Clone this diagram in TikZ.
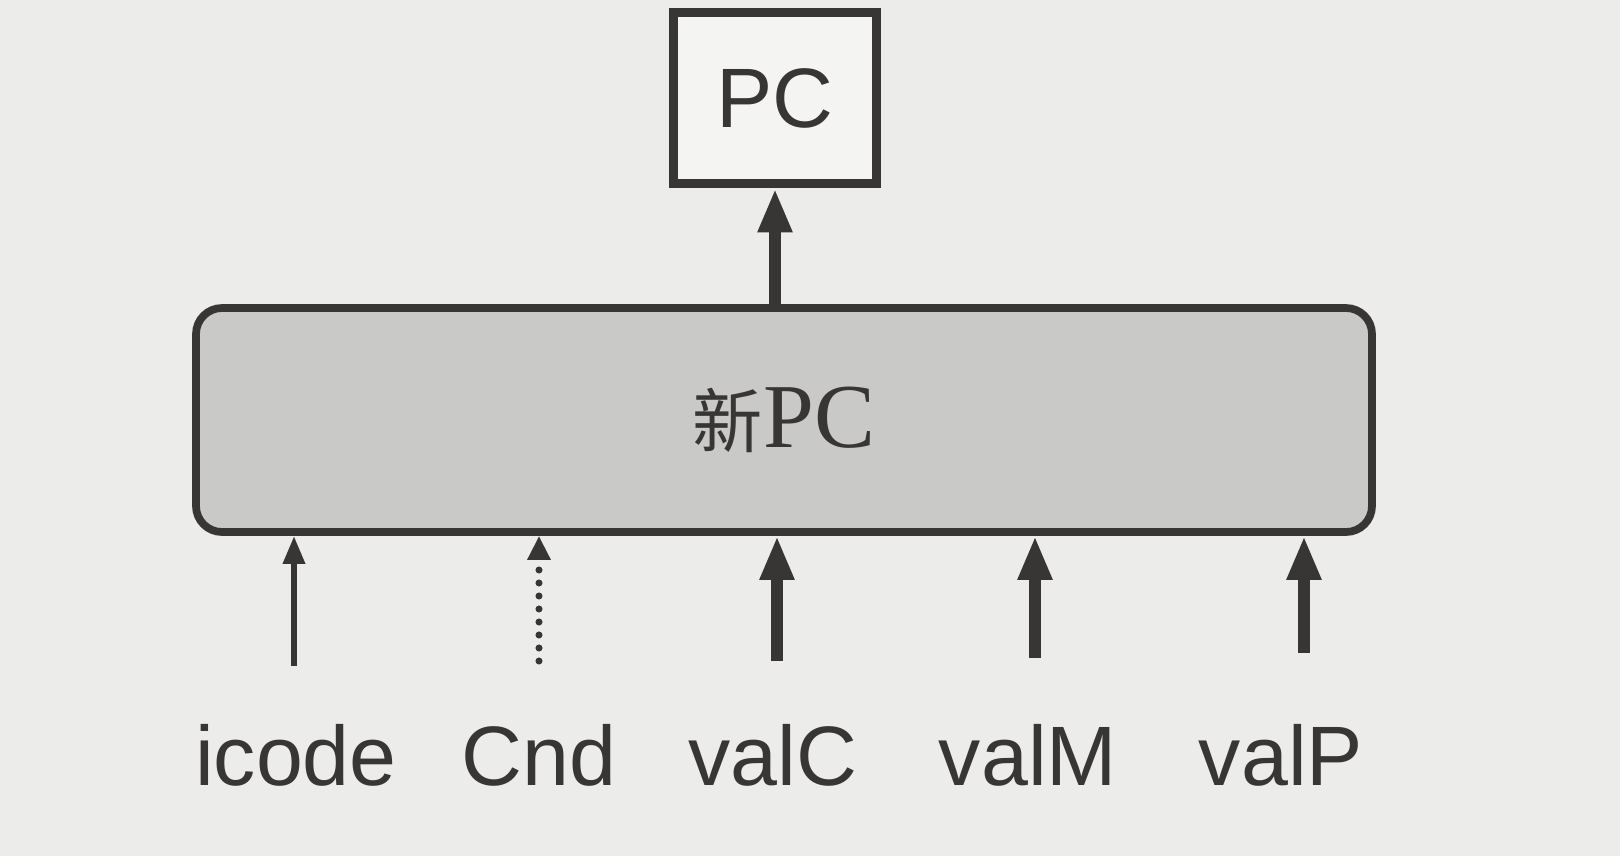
\documentclass[tikz,border=0pt]{standalone}
\usepackage{fontspec}
\setmainfont{Liberation Serif}
\setsansfont{Liberation Sans}
\newfontfamily\cjk{Noto Sans CJK SC}
\usetikzlibrary{arrows.meta,positioning}
\definecolor{paper}{HTML}{ECECEA}
\definecolor{ink}{HTML}{383634}
\definecolor{boxgray}{HTML}{C9C9C7}

\begin{document}
\begin{tikzpicture}[x=0.1mm,y=-0.1mm,
  reg/.style={draw=ink,line width=2.8pt,fill=white!40!paper,minimum width=20.3mm,minimum height=17.1mm,
    font=\sffamily\fontsize{24}{24}\selectfont,text=ink},
  logic/.style={draw=ink,line width=2.2pt,fill=boxgray,rounded corners=2.6mm,minimum width=117.6mm,
    minimum height=22.4mm,font=\fontsize{26}{26}\selectfont,text=ink},
  sig/.style={font=\sffamily\fontsize{24}{24}\selectfont,text=ink,anchor=base,inner sep=0pt},
  bus/.style={draw=ink,line width=3.6pt,-{Triangle[length=4.4mm,width=3.2mm]}},
  wire/.style={draw=ink,line width=1.8pt,-{Triangle[length=2.8mm,width=2.1mm]}},
  ctrl/.style={draw=ink,line width=2pt,line cap=round,dash pattern=on 0pt off 1.3mm,
    -{Triangle[length=2.4mm,width=2.2mm,line cap=butt]}}]
\fill[paper] (0,0) rectangle (1620,856);
\node[reg] (pc) at (775,98) {PC};
\node[logic] (newpc) at (784,420) {{\cjk\fontsize{20}{20}\selectfont 新}PC};
\draw[bus] (pc |- newpc.north) -- (pc.south);
% inputs: name / label x / arrow x / arrow foot y / style
\foreach \name/\lx/\ax/\ay/\sty in {icode/296/294/666/wire, Cnd/539/539/661/ctrl,
    valC/773/777/661/bus, valM/1028/1035/658/bus, valP/1281/1304/653/bus} {
  \node[sig] (\name) at (\lx,785) {\name};
  \coordinate (\name in) at (\ax,\ay);
  \draw[\sty] (\name in) -- (\name in |- newpc.south);
}
\end{tikzpicture}
\end{document}
